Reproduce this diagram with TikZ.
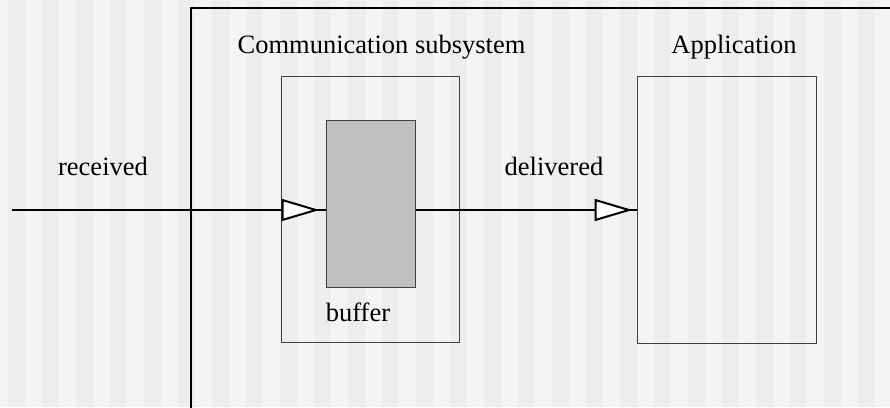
\documentclass[tikz,border=0pt]{standalone}
\usepackage{fontspec}
\setmainfont{Liberation Serif}
\usepackage{tikz}
\usetikzlibrary{arrows.meta}
\definecolor{stripelight}{HTML}{F4F4F4}
\definecolor{stripedark}{HTML}{EDEDED}
\definecolor{buffergray}{HTML}{C0C0C0}

\begin{document}
\begin{tikzpicture}[x=1pt,y=-1pt,
  box/.style={draw=black!75,line width=1pt,inner sep=0pt},
  lbl/.style={anchor=base,inner sep=0pt,font=\fontsize{26.5}{30}\selectfont},
  flow/.style={line width=2pt},
  tip/.style={line width=2pt,-{Triangle[length=38pt,width=22pt,fill=white]}}]
\useasboundingbox (0,0) rectangle (890,407);
\fill[stripelight] (0,0) rectangle (890,407);
\foreach \x in {8,42,...,890}
  \fill[stripedark] (\x,0) rectangle (\x+17,407);
\draw[line width=1.2pt] (191,408) -- (191,8) -- (891,8);
\node[box,minimum width=178pt,minimum height=266pt] (commsys) at (370,209) {};
\node[box,fill=buffergray,minimum width=89pt,minimum height=167pt] (buffer) at (370.5,203.5) {};
\node[box,minimum width=179pt,minimum height=267pt] (app) at (726.5,209.5) {};
\node[lbl] (commtitle) at (381.5,53) {Communication subsystem};
\node[lbl] (apptitle) at (734,53) {Application};
\node[lbl] (buflabel) at (358,321) {buffer};
\node[lbl] (recvlabel) at (103,175) {received};
\node[lbl] (delivlabel) at (554,175) {delivered};
\coordinate (src) at (12,210);
\draw[flow] (src) -- (buffer.west |- src);
\draw[tip,shorten >=6pt] (src) -- (buffer.west |- src);
\draw[flow] (buffer.east |- src) -- (app.west |- src);
\draw[tip,shorten >=4pt] (buffer.east |- src) -- (app.west |- src);
\end{tikzpicture}
\end{document}
